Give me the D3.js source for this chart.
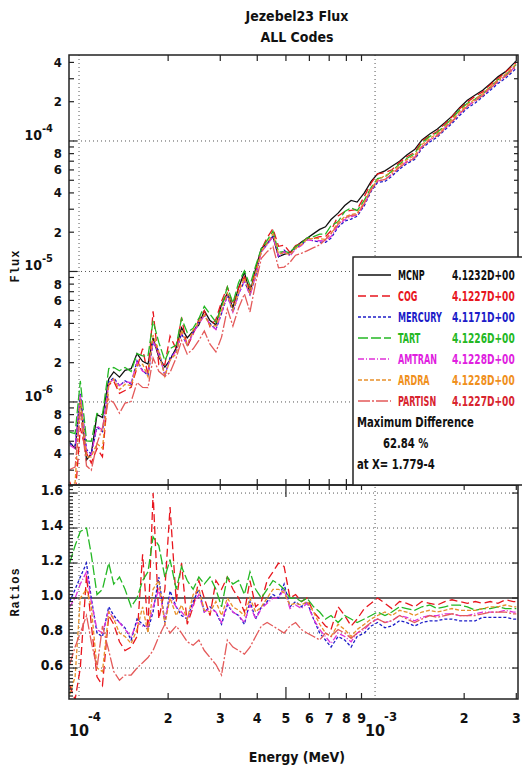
<!DOCTYPE html>
<html>
<head>
<meta charset="utf-8">
<script src="https://cdn.jsdelivr.net/npm/d3@7"></script>
<style>
  body { margin: 0; background: #fff; }
  svg { display: block; }
  text { font-family: "Liberation Sans Narrow", "DejaVu Sans Condensed", "DejaVu Sans", sans-serif; font-stretch: condensed; font-weight: bold; fill: #111; }
  .mono { font-family: "Liberation Mono", "DejaVu Sans Mono", monospace; font-stretch: normal; letter-spacing: 1px; }
</style>
</head>
<body>
<script>
// Energy group points (MeV)
const energy = [9.3e-5, 9.7e-5, 1.01e-4, 1.06e-4, 1.10e-4, 1.15e-4, 1.20e-4, 1.26e-4, 1.31e-4, 1.37e-4,
  1.43e-4, 1.50e-4, 1.57e-4, 1.64e-4, 1.71e-4, 1.779e-4, 1.86e-4, 1.95e-4, 2.03e-4, 2.13e-4,
  2.22e-4, 2.32e-4, 2.43e-4, 2.54e-4, 2.65e-4, 2.77e-4, 2.90e-4, 3.03e-4, 3.17e-4, 3.31e-4,
  3.46e-4, 3.62e-4, 3.78e-4, 3.95e-4, 4.13e-4, 4.32e-4, 4.52e-4, 4.72e-4, 4.93e-4, 5.16e-4,
  5.39e-4, 5.64e-4, 5.89e-4, 6.2e-4, 6.5e-4, 6.8e-4, 7.1e-4, 7.5e-4, 7.9e-4, 8.3e-4,
  8.7e-4, 9.2e-4, 9.7e-4, 1.02e-3, 1.08e-3, 1.14e-3, 1.21e-3, 1.28e-3, 1.36e-3, 1.44e-3,
  1.53e-3, 1.62e-3, 1.72e-3, 1.82e-3, 1.93e-3, 2.05e-3, 2.18e-3, 2.31e-3, 2.45e-3, 2.60e-3,
  2.76e-3, 2.93e-3, 3.0e-3];

// MCNP flux (reference code)
const mcnpFlux = [4.9e-7, 4.4e-7, 1.05e-6, 3.6e-7, 4.0e-7, 8.0e-7, 7.6e-7, 1.5e-6, 1.7e-6, 1.55e-6,
  1.75e-6, 1.8e-6, 2.35e-6, 2.05e-6, 1.95e-6, 3.1e-6, 2.2e-6, 1.85e-6, 2.1e-6, 2.6e-6,
  3.7e-6, 3.1e-6, 3.5e-6, 3.9e-6, 5.0e-6, 4.2e-6, 3.9e-6, 5.6e-6, 6.8e-6, 5.3e-6,
  7.5e-6, 9.9e-6, 6.8e-6, 1.05e-5, 1.5e-5, 1.65e-5, 1.85e-5, 1.3e-5, 1.35e-5, 1.4e-5,
  1.55e-5, 1.68e-5, 1.8e-5, 1.95e-5, 2.1e-5, 2.2e-5, 2.5e-5, 2.8e-5, 3.2e-5, 3.5e-5,
  3.4e-5, 4.0e-5, 4.9e-5, 5.6e-5, 5.9e-5, 6.4e-5, 7.0e-5, 7.8e-5, 8.6e-5, 1.02e-4,
  1.13e-4, 1.23e-4, 1.38e-4, 1.55e-4, 1.8e-4, 2.05e-4, 2.25e-4, 2.45e-4, 2.75e-4, 3.1e-4,
  3.4e-4, 3.9e-4, 4.1e-4];

// Ratios code / MCNP
const cogRatio = [0.50, 0.42, 0.60, 1.13, 0.85, 0.55, 0.50, 0.90, 0.85, 0.75,
  0.70, 0.72, 0.78, 1.25, 0.82, 1.60, 0.88, 1.05, 1.52, 0.98,
  1.20, 0.85, 0.95, 1.10, 1.00, 0.90, 1.10, 1.05, 1.12, 1.05,
  1.00, 0.92, 1.10, 0.95, 0.98, 1.10, 1.15, 1.20, 1.18, 1.00,
  1.02, 0.98, 1.00, 0.92, 0.88, 0.84, 0.82, 0.95, 0.90, 0.84,
  0.88, 0.94, 0.97, 1.00, 0.97, 0.94, 0.98, 0.97, 0.95, 0.98,
  0.97, 0.96, 0.98, 0.99, 0.98, 0.97, 0.98, 0.97, 0.98, 0.97,
  0.99, 0.98, 0.98];
const mercuryRatio = [0.98, 1.05, 1.12, 1.20, 1.00, 0.80, 0.78, 0.95, 0.90, 0.86,
  0.83, 0.76, 0.88, 0.85, 0.82, 0.92, 1.12, 0.86, 1.04, 0.95,
  0.90, 0.88, 0.98, 1.05, 0.92, 0.95, 0.92, 0.85, 0.96, 0.92,
  0.90, 0.85, 0.98, 0.88, 0.95, 0.98, 1.02, 1.00, 1.08, 0.95,
  0.98, 0.95, 0.98, 0.88, 0.80, 0.76, 0.72, 0.78, 0.76, 0.72,
  0.78, 0.80, 0.84, 0.86, 0.83, 0.84, 0.87, 0.86, 0.84, 0.86,
  0.87, 0.87, 0.88, 0.88, 0.87, 0.87, 0.87, 0.89, 0.89, 0.89,
  0.89, 0.88, 0.88];
const tartRatio = [1.20, 1.30, 1.38, 1.40, 1.25, 1.02, 1.05, 1.20, 1.08, 1.12,
  1.05, 0.95, 1.00, 1.10, 1.15, 1.35, 1.30, 1.12, 1.22, 1.05,
  1.18, 1.10, 1.05, 1.12, 1.08, 1.12, 1.05, 0.95, 1.12, 1.08,
  1.10, 1.02, 1.15, 1.05, 1.00, 1.05, 1.10, 1.08, 1.05, 1.00,
  1.00, 0.98, 1.00, 0.95, 0.92, 0.88, 0.90, 0.86, 0.90, 0.88,
  0.86, 0.88, 0.90, 0.92, 0.90, 0.92, 0.95, 0.94, 0.93, 0.95,
  0.96, 0.94, 0.95, 0.96, 0.96, 0.95, 0.93, 0.94, 0.94, 0.95,
  0.94, 0.94, 0.94];
const amtranRatio = [0.95, 1.00, 1.08, 1.15, 0.98, 0.82, 0.80, 0.93, 0.88, 0.86,
  0.82, 0.78, 0.86, 0.84, 0.84, 0.95, 1.05, 0.88, 1.00, 0.95,
  0.92, 0.88, 0.96, 1.02, 0.92, 0.94, 0.92, 0.86, 0.97, 0.92,
  0.90, 0.86, 0.96, 0.88, 0.94, 0.97, 1.00, 1.00, 1.05, 0.94,
  0.96, 0.94, 0.97, 0.88, 0.82, 0.78, 0.74, 0.80, 0.78, 0.75,
  0.80, 0.82, 0.86, 0.88, 0.86, 0.87, 0.90, 0.89, 0.87, 0.89,
  0.90, 0.90, 0.91, 0.91, 0.90, 0.90, 0.91, 0.92, 0.92, 0.92,
  0.93, 0.92, 0.92];
const ardraRatio = [0.45, 0.55, 1.00, 1.05, 0.95, 0.60, 0.58, 0.92, 0.88, 0.80,
  0.78, 0.74, 0.82, 0.95, 0.80, 1.05, 1.10, 0.85, 1.00, 0.90,
  0.96, 0.88, 1.02, 1.05, 0.93, 0.92, 0.98, 0.90, 1.00, 0.95,
  0.93, 0.90, 1.00, 0.92, 0.95, 1.00, 1.05, 1.05, 1.03, 0.96,
  0.97, 0.96, 0.98, 0.92, 0.85, 0.80, 0.78, 0.85, 0.82, 0.78,
  0.82, 0.85, 0.88, 0.90, 0.92, 0.90, 0.93, 0.92, 0.90, 0.92,
  0.93, 0.92, 0.93, 0.94, 0.93, 0.93, 0.93, 0.94, 0.95, 0.95,
  0.96, 0.95, 0.95];
const partisnRatio = [0.62, 0.72, 0.80, 0.90, 0.75, 0.60, 0.84, 0.70, 0.58, 0.53,
  0.56, 0.56, 0.60, 0.63, 0.66, 0.70, 0.78, 0.85, 0.80, 0.84,
  0.80, 0.75, 0.73, 0.76, 0.70, 0.66, 0.62, 0.56, 0.76, 0.72,
  0.70, 0.68, 0.72, 0.78, 0.84, 0.86, 0.84, 0.82, 0.80, 0.84,
  0.86, 0.82, 0.80, 0.78, 0.76, 0.80, 0.78, 0.82, 0.80, 0.77,
  0.80, 0.83, 0.86, 0.88, 0.86, 0.87, 0.90, 0.88, 0.86, 0.88,
  0.90, 0.89, 0.90, 0.91, 0.90, 0.90, 0.90, 0.91, 0.92, 0.92,
  0.92, 0.91, 0.91];

// Legend entries
const codes = ['MCNP', 'COG', 'MERCURY', 'TART', 'AMTRAN', 'ARDRA', 'PARTISN'];
const integrals = ['4.1232D+00', '4.1227D+00', '4.1171D+00', '4.1226D+00', '4.1228D+00', '4.1228D+00', '4.1227D+00'];
const maxDiffLines = ['Maximum Difference', '62.84 %', 'at X= 1.779-4'];

// Tick labels
const ratioTicks = [0.6, 0.8, 1.0, 1.2, 1.4, 1.6];
const fluxLabelMantissas = [2, 4, 6, 8];

// Styles
const colours = ['#111111', '#e8161e', '#1c1cc8', '#24b824', '#e01ee0', '#f0901c', '#d8242e'];
const lineColours = ['#111111', '#e8161e', '#1c1cc8', '#24b824', '#e030d8', '#e8902a', '#e45a5a'];
const dashes = [null, '8,4', '3,2', '10,3', '6,2,1,2', '4,2', '12,2,2,2'];

const width = 522, height = 769;
const left = 69, right = 518, fluxTop = 55, split = 485, ratioBottom = 699;

const svg = d3.select('body').append('svg')
    .attr('width', width)
    .attr('height', height);

const x = d3.scaleLog().domain([9.25e-5, 3.04e-3]).range([left, right]);
const yF = d3.scaleLog().domain([2.31e-7, 4.56e-4]).range([split, fluxTop]);
const yR = d3.scaleLinear().domain([0.423, 1.646]).range([ratioBottom, split]);

// Build series: flux = MCNP * ratio
const ratioSets = [mcnpFlux.map((f, i) => f / mcnpFlux[i]), cogRatio, mercuryRatio, tartRatio, amtranRatio, ardraRatio, partisnRatio];
const series = codes.map((name, k) => ({
  name,
  colour: colours[k],
  line: lineColours[k],
  dash: dashes[k],
  points: energy.map((e, i) => ({ e, flux: mcnpFlux[i] * ratioSets[k][i], ratio: ratioSets[k][i] }))
}));

// Clip paths
const defs = svg.append('defs');
defs.append('clipPath').attr('id', 'clipF').append('rect')
    .attr('x', left).attr('y', fluxTop).attr('width', right - left).attr('height', split - fluxTop);
defs.append('clipPath').attr('id', 'clipR').append('rect')
    .attr('x', left).attr('y', split).attr('width', right - left).attr('height', ratioBottom - split);

const xTicks = x.ticks().filter(v => v >= x.domain()[0] && v <= x.domain()[1]);
const isDecade = v => Math.abs(Math.log10(v) - Math.round(Math.log10(v))) < 1e-6;
const mantissa = v => Math.round(v / Math.pow(10, Math.floor(Math.log10(v) + 1e-9)));
const dotted = g => g.attr('stroke', '#555').attr('stroke-width', 1).attr('stroke-dasharray', '1,3');

// ---- Grid lines ----
const grid = svg.append('g');
xTicks.filter(isDecade).forEach(v => {
  grid.append('line').attr('x1', x(v)).attr('x2', x(v)).attr('y1', fluxTop).attr('y2', ratioBottom).call(dotted);
});
yF.ticks().filter(isDecade).forEach(v => {
  grid.append('line').attr('x1', left).attr('x2', right).attr('y1', yF(v)).attr('y2', yF(v)).call(dotted);
});
ratioTicks.filter(v => v !== 1.0).forEach(v => {
  grid.append('line').attr('x1', left).attr('x2', right).attr('y1', yR(v)).attr('y2', yR(v)).call(dotted);
});

// ---- Lines ----
const fluxLine = d3.line().x(d => x(d.e)).y(d => yF(d.flux));
const ratioLine = d3.line().x(d => x(d.e)).y(d => yR(d.ratio));

svg.append('g').attr('clip-path', 'url(#clipF)')
  .selectAll('path').data(series).join('path')
    .attr('d', d => fluxLine(d.points))
    .attr('fill', 'none')
    .attr('stroke', d => d.line)
    .attr('stroke-width', 1.3)
    .attr('stroke-dasharray', d => d.dash);

// MCNP ratio line spans the full width
svg.append('line')
    .attr('x1', left).attr('x2', right).attr('y1', yR(1)).attr('y2', yR(1))
    .attr('stroke', '#333').attr('stroke-width', 1.4);

svg.append('g').attr('clip-path', 'url(#clipR)')
  .selectAll('path').data(series.slice(1)).join('path')
    .attr('d', d => ratioLine(d.points))
    .attr('fill', 'none')
    .attr('stroke', d => d.line)
    .attr('stroke-width', 1.3)
    .attr('stroke-dasharray', d => d.dash);

// ---- Frames ----
[[fluxTop, split], [split, ratioBottom]].forEach(([t, b]) => {
  svg.append('rect').attr('x', left).attr('y', t).attr('width', right - left).attr('height', b - t)
      .attr('fill', 'none').attr('stroke', '#222').attr('stroke-width', 1.5);
});

// ---- Ticks ----
const ticks = svg.append('g').attr('stroke', '#222').attr('stroke-width', 1.2);
xTicks.filter(v => !isDecade(v)).forEach(v => {
  const xx = x(v);
  const long = mantissa(v) === 5 && v < 1e-3;
  ticks.append('line').attr('x1', xx).attr('x2', xx).attr('y1', fluxTop).attr('y2', fluxTop + 6);
  ticks.append('line').attr('x1', xx).attr('x2', xx).attr('y1', split).attr('y2', split - 6);
  ticks.append('line').attr('x1', xx).attr('x2', xx).attr('y1', split).attr('y2', split + (long ? 12 : 5));
  ticks.append('line').attr('x1', xx).attr('x2', xx).attr('y1', ratioBottom).attr('y2', ratioBottom - (long ? 12 : 6));
});
yF.ticks().forEach(v => {
  const yy = yF(v);
  if (yy < fluxTop || yy > split) return;
  const len = isDecade(v) ? 8 : 5;
  ticks.append('line').attr('x1', left).attr('x2', left + len).attr('y1', yy).attr('y2', yy);
  ticks.append('line').attr('x1', right).attr('x2', right - 4).attr('y1', yy).attr('y2', yy);
});
yR.ticks(60).forEach(v => {
  const major = ratioTicks.some(t => Math.abs(t - v) < 1e-6);
  ticks.append('line').attr('x1', left).attr('x2', left + (major ? 8 : 4)).attr('y1', yR(v)).attr('y2', yR(v));
  if (major) ticks.append('line').attr('x1', right).attr('x2', right - 6).attr('y1', yR(v)).attr('y2', yR(v));
});

// ---- Tick labels ----
const labels = svg.append('g');
yF.ticks().forEach(v => {
  const yy = yF(v);
  if (yy < fluxTop || yy > split) return;
  if (isDecade(v)) {
    const t = labels.append('text').attr('x', 53).attr('y', yy - 1).attr('text-anchor', 'end').style('font-size', '14px');
    t.append('tspan').text('10');
    t.append('tspan').attr('dy', -8).style('font-size', '11px').text(Math.round(Math.log10(v)));
  } else if (fluxLabelMantissas.includes(mantissa(v))) {
    labels.append('text').attr('x', 62).attr('y', yy + 4.5).attr('text-anchor', 'end')
        .style('font-size', '13px').text(mantissa(v));
  }
});
ratioTicks.forEach(v => {
  labels.append('text').attr('x', 63).attr('y', yR(v) + 2).attr('text-anchor', 'end')
      .style('font-size', '14px').text(d3.format('.1f')(v));
});
xTicks.forEach(v => {
  const xx = x(v);
  if (isDecade(v)) {
    labels.append('text').attr('x', xx).attr('y', 736).attr('text-anchor', 'middle').style('font-size', '16px').text('10');
    labels.append('text').attr('x', xx + 9).attr('y', 721).style('font-size', '13px').text(Math.round(Math.log10(v)));
  } else {
    labels.append('text').attr('x', xx).attr('y', 723).attr('text-anchor', 'middle').style('font-size', '14px').text(mantissa(v));
  }
});

// ---- Titles ----
svg.append('text').attr('x', 297).attr('y', 21).attr('text-anchor', 'middle').style('font-size', '14px').text('Jezebel23 Flux');
svg.append('text').attr('x', 297).attr('y', 42).attr('text-anchor', 'middle').style('font-size', '14px').text('ALL Codes');
svg.append('text').attr('x', 297).attr('y', 762).attr('text-anchor', 'middle').style('font-size', '14px').text('Energy (MeV)');
svg.append('text').attr('class', 'mono').attr('transform', 'translate(19,266) rotate(-90)')
    .attr('text-anchor', 'middle').style('font-size', '12px').text('Flux');
svg.append('text').attr('class', 'mono').attr('transform', 'translate(19,592) rotate(-90)')
    .attr('text-anchor', 'middle').style('font-size', '12px').text('Ratios');

// ---- Legend ----
// narrow text by scaling horizontally around its own anchor point
const narrowText = (g, tx, ty, sx, str) => g.append('text')
    .attr('transform', `translate(${tx},${ty}) scale(${sx},1)`)
    .style('font-size', '14px')
    .text(str);

const legend = svg.append('g');
legend.append('rect').attr('x', 353).attr('y', 257).attr('width', 190).attr('height', split - 257)
    .attr('fill', '#fff').attr('stroke', '#222').attr('stroke-width', 1.5);
series.forEach((s, k) => {
  const yy = 275 + k * 21;
  legend.append('line').attr('x1', 358).attr('x2', 391).attr('y1', yy).attr('y2', yy)
      .attr('stroke', s.line).attr('stroke-width', 1.3).attr('stroke-dasharray', s.dash);
  narrowText(legend, 398, yy + 5, 0.64, s.name).style('fill', s.colour);
  narrowText(legend, 452, yy + 5, 0.72, integrals[k]).style('fill', s.colour);
});
maxDiffLines.forEach((t, k) => {
  narrowText(legend, k === 1 ? 383 : 357, 427 + k * 21, 0.8, t);
});
</script>
</body>
</html>
